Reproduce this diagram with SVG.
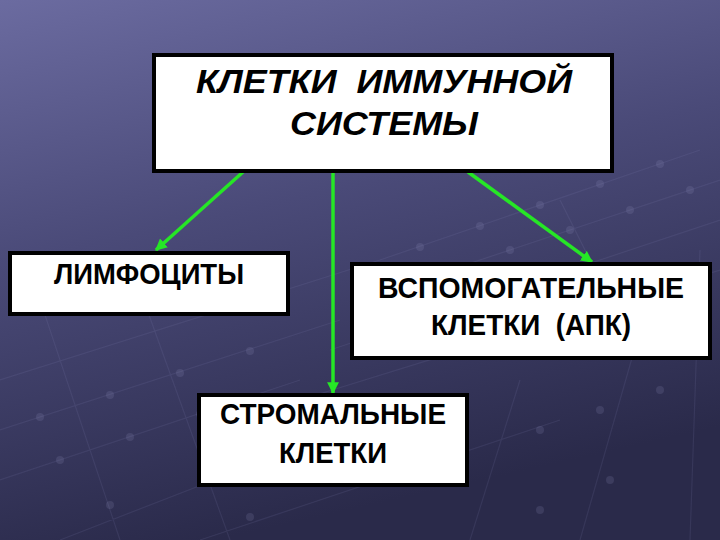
<svg xmlns="http://www.w3.org/2000/svg" width="720" height="540" viewBox="0 0 720 540">
<defs>
<linearGradient id="bg" x1="0" y1="0" x2="0.3" y2="1">
<stop offset="0" stop-color="#6b6ba0"/>
<stop offset="0.45" stop-color="#4a4a78"/>
<stop offset="1" stop-color="#2a2a4a"/>
</linearGradient>
<marker id="ah" viewBox="0 0 10 10" refX="9" refY="5" markerWidth="3.4" markerHeight="3.4" orient="auto" markerUnits="strokeWidth">
<path d="M0,0 L10,5 L0,10 z" fill="#26e626"/>
</marker>
<style>
.box{fill:#ffffff;stroke:#000000;stroke-width:4}
.t{font-family:"Liberation Sans",Arial,sans-serif;font-weight:bold;fill:#000000;text-anchor:middle;white-space:pre}
.ti{font-style:italic;font-size:33px}
.tn{font-size:30px}
.conn{stroke:#26e626;stroke-width:3.5;fill:none;marker-end:url(#ah)}
.net{stroke:#8a8ab8;stroke-opacity:0.14;stroke-width:1.2;fill:none}
.dot{fill:#9a9ac8;fill-opacity:0.16}
</style>
</defs>
<rect width="720" height="540" fill="url(#bg)"/>
<g id="background-net">
<path class="net" d="M380,260 L700,150 M360,300 L720,180 M330,350 L720,220 M300,400 L720,270 M0,380 L380,260 M0,430 L340,320 M0,480 L300,380 M60,540 L420,400 M200,540 L560,420 M40,300 L120,540 M140,290 L230,540 M520,380 L470,540 M640,330 L580,540 M700,250 L690,540 M560,200 L610,300"/>
<g>
<circle class="dot" cx="420" cy="247" r="4"/><circle class="dot" cx="480" cy="226" r="4"/><circle class="dot" cx="540" cy="205" r="4"/><circle class="dot" cx="600" cy="184" r="4"/><circle class="dot" cx="660" cy="164" r="4"/>
<circle class="dot" cx="450" cy="270" r="4"/><circle class="dot" cx="510" cy="250" r="4"/><circle class="dot" cx="570" cy="230" r="4"/><circle class="dot" cx="630" cy="210" r="4"/><circle class="dot" cx="690" cy="190" r="4"/>
<circle class="dot" cx="40" cy="417" r="4"/><circle class="dot" cx="110" cy="395" r="4"/><circle class="dot" cx="180" cy="373" r="4"/><circle class="dot" cx="250" cy="351" r="4"/>
<circle class="dot" cx="60" cy="460" r="4"/><circle class="dot" cx="130" cy="437" r="4"/><circle class="dot" cx="200" cy="414" r="4"/>
<circle class="dot" cx="110" cy="505" r="4"/><circle class="dot" cx="250" cy="517" r="4"/><circle class="dot" cx="540" cy="430" r="4"/><circle class="dot" cx="600" cy="410" r="4"/><circle class="dot" cx="660" cy="390" r="4"/>
<circle class="dot" cx="540" cy="510" r="4"/><circle class="dot" cx="610" cy="480" r="4"/>
</g>
</g>
<g id="connectors">
<line class="conn" x1="243" y1="172" x2="156" y2="250"/>
<line class="conn" x1="333" y1="173" x2="333" y2="393"/>
<line class="conn" x1="468" y1="172" x2="592" y2="262"/>
</g>
<g id="node-root">
<rect class="box" x="154" y="55" width="458" height="116"/>
<text class="t ti" x="384" y="93" textLength="376" lengthAdjust="spacingAndGlyphs" xml:space="preserve">КЛЕТКИ  ИММУННОЙ</text>
<text class="t ti" x="384" y="135" textLength="188" lengthAdjust="spacingAndGlyphs">СИСТЕМЫ</text>
</g>
<g id="node-lymph">
<rect class="box" x="10" y="253" width="278" height="61" stroke-width="3"/>
<text class="t tn" x="149" y="284" textLength="190" lengthAdjust="spacingAndGlyphs">ЛИМФОЦИТЫ</text>
</g>
<g id="node-apc">
<rect class="box" x="352" y="264" width="358" height="94" stroke-width="3"/>
<text class="t tn" x="531" y="298" textLength="306" lengthAdjust="spacingAndGlyphs">ВСПОМОГАТЕЛЬНЫЕ</text>
<text class="t tn" x="531" y="335" textLength="200" lengthAdjust="spacingAndGlyphs" xml:space="preserve">КЛЕТКИ  (АПК)</text>
</g>
<g id="node-stromal">
<rect class="box" x="199" y="395" width="268" height="90" stroke-width="3"/>
<text class="t tn" x="333" y="424" textLength="226" lengthAdjust="spacingAndGlyphs">СТРОМАЛЬНЫЕ</text>
<text class="t tn" x="333" y="463" textLength="108" lengthAdjust="spacingAndGlyphs">КЛЕТКИ</text>
</g>
</svg>
